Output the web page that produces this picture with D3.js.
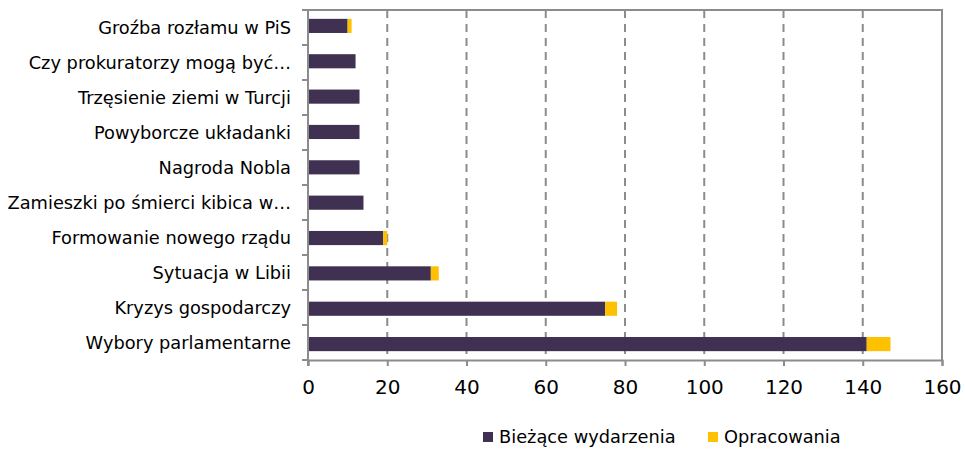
<!DOCTYPE html>
<html><head><meta charset="utf-8">
<script src="https://cdn.jsdelivr.net/npm/d3@7"></script>
<style>
body{margin:0;background:#fff;}
svg text{font-family:"DejaVu Sans",sans-serif;fill:#000;}
</style></head>
<body><svg id="c" width="965" height="449"></svg>
<script>
const categories = ["Groźba rozłamu w PiS","Czy prokuratorzy mogą być…","Trzęsienie ziemi w Turcji","Powyborcze układanki","Nagroda Nobla","Zamieszki po śmierci kibica w…","Formowanie nowego rządu","Sytuacja w Libii","Kryzys gospodarczy","Wybory parlamentarne"];
const current = [10,12,13,13,13,14,19,31,75,141];
const studies = [1,0,0,0,0,0,1,2,3,6];
const seriesNames = ["Bieżące wydarzenia","Opracowania"];
const xTicks = [0,20,40,60,80,100,120,140,160];
const colors = ["#403152","#FFC000"];

const svg = d3.select("#c");
const L=308, R=942, T=10, B=360;
const FS = "17.8px";
const x = d3.scaleLinear().domain([0,160]).range([L,R]);
const y = d3.scaleBand().domain(categories).range([T,B]).paddingInner(0.6).paddingOuter(0.25);
const yb = d3.scaleBand().domain(categories).range([T,B]);

svg.append("g").selectAll("line").data(xTicks.filter(d=>d>0&&d<160)).join("line")
  .attr("x1",d=>x(d)).attr("x2",d=>x(d)).attr("y1",T).attr("y2",B)
  .attr("stroke","#8c8c8c").attr("stroke-width",2).attr("stroke-dasharray","8,6");

svg.append("path").attr("d",`M${L},${T}H${R}V${B}`).attr("fill","none").attr("stroke","#8c8c8c").attr("stroke-width",2);

const data = categories.map((c,i)=>({c,a:current[i],b:studies[i]}));
svg.append("g").selectAll("rect").data(data).join("rect")
  .attr("x",x(0)).attr("y",d=>y(d.c)).attr("width",d=>x(d.a)-x(0)).attr("height",y.bandwidth())
  .attr("fill",colors[0]);
svg.append("g").selectAll("rect").data(data.filter(d=>d.b>0)).join("rect")
  .attr("x",d=>x(d.a)).attr("y",d=>y(d.c)).attr("width",d=>x(d.a+d.b)-x(d.a)).attr("height",y.bandwidth())
  .attr("fill",colors[1]);

const xa = svg.append("g").attr("transform",`translate(0,${B})`)
  .call(d3.axisBottom(x).tickValues(xTicks).tickSize(6).tickPadding(14));
xa.select(".domain").attr("stroke","#8c8c8c").attr("stroke-width",2);
xa.selectAll(".tick line").attr("stroke","#8c8c8c").attr("stroke-width",2);
xa.selectAll("text").style("font-size","20px").attr("fill","#000");

svg.append("line").attr("x1",L).attr("x2",L).attr("y1",T).attr("y2",B+6).attr("stroke","#8c8c8c").attr("stroke-width",2);
const bounds = categories.map(c=>yb(c)).concat([B]);
svg.append("g").selectAll("line").data(bounds).join("line")
  .attr("x1",L-6).attr("x2",L).attr("y1",d=>d).attr("y2",d=>d).attr("stroke","#8c8c8c").attr("stroke-width",2);
svg.append("g").selectAll("text").data(categories).join("text")
  .attr("x",291).attr("y",d=>yb(d)+yb.bandwidth()/2).attr("dy","0.35em")
  .attr("text-anchor","end").style("font-size",FS).text(d=>d);

const lg = svg.append("g");
const lx=[483,708];
seriesNames.forEach((n,i)=>{
  lg.append("rect").attr("x",lx[i]).attr("y",432).attr("width",10).attr("height",10).attr("fill",colors[i]);
  lg.append("text").attr("x",lx[i]+16).attr("y",437).attr("dy","0.35em").style("font-size",FS).text(n);
});
</script></body></html>
